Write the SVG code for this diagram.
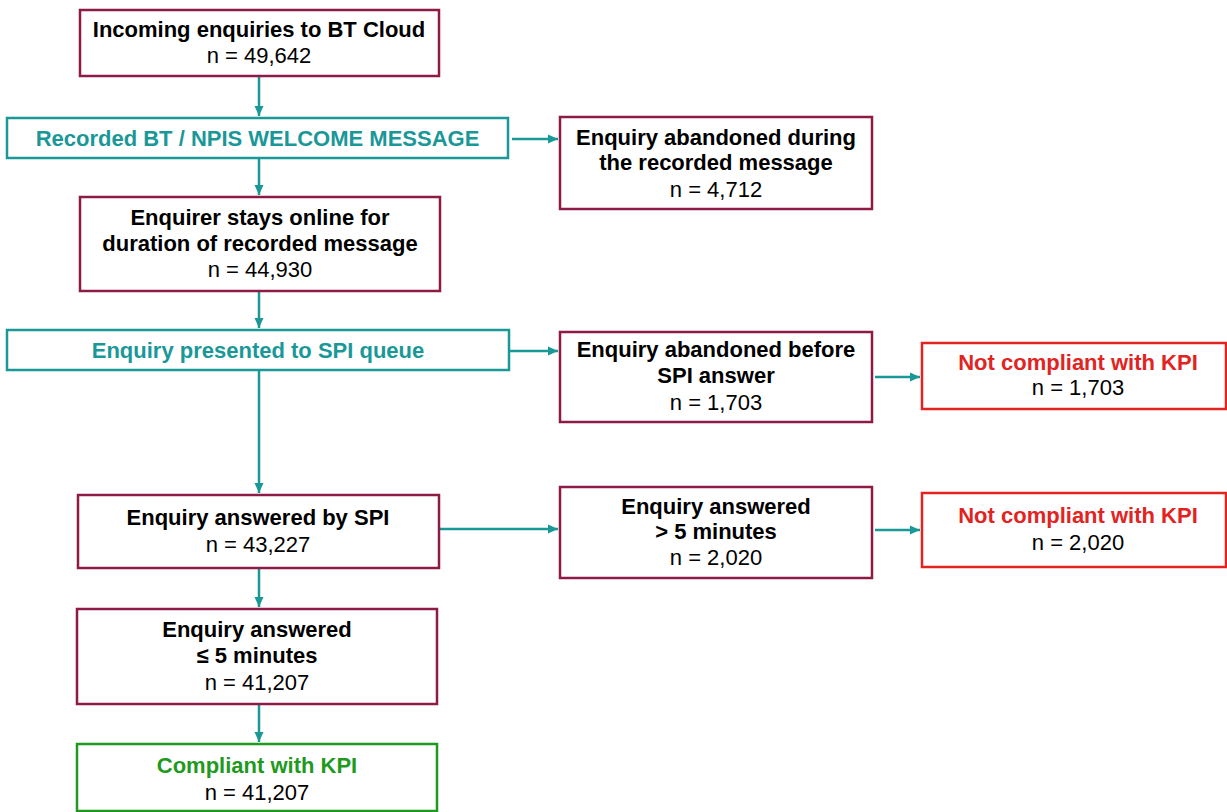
<svg xmlns="http://www.w3.org/2000/svg" width="1227" height="812" viewBox="0 0 1227 812">
<style>
text{font-family:"Liberation Sans",Arial,sans-serif;font-size:22px;text-anchor:middle;fill:#000}
.b{font-weight:bold}
.tl{fill:#1A9898}
.rd{fill:#E2231F}
.gr{fill:#1F9A1F}
.mb{fill:#fff;stroke:#8E1B45;stroke-width:2.5}
.tb{fill:#fff;stroke:#1A9898;stroke-width:2.5}
.rb{fill:#fff;stroke:#E2231F;stroke-width:2.5}
.gb{fill:#fff;stroke:#1F9A1F;stroke-width:2.5}
.c{fill:none;stroke:#1A9898;stroke-width:2.5}
</style>
<defs>
<marker id="ah" markerUnits="userSpaceOnUse" markerWidth="12" markerHeight="12" viewBox="0 0 12 12" refX="11" refY="6" orient="auto">
<path d="M1,1.5 L11,6 L1,10.5 Z" fill="#1A9898"/>
</marker>
</defs>
<g id="connectors">
<path class="c" d="M259,77 V116" marker-end="url(#ah)"/>
<path class="c" d="M259,159 V195" marker-end="url(#ah)"/>
<path class="c" d="M512,139 H558" marker-end="url(#ah)"/>
<path class="c" d="M259,292 V328" marker-end="url(#ah)"/>
<path class="c" d="M510,351 H558" marker-end="url(#ah)"/>
<path class="c" d="M259,371 V493" marker-end="url(#ah)"/>
<path class="c" d="M875,377 H920" marker-end="url(#ah)"/>
<path class="c" d="M440,529 H558" marker-end="url(#ah)"/>
<path class="c" d="M875,530 H920" marker-end="url(#ah)"/>
<path class="c" d="M259,569 V607" marker-end="url(#ah)"/>
<path class="c" d="M259,705 V742" marker-end="url(#ah)"/>
</g>
<g id="incoming">
<rect class="mb" x="80" y="10" width="359" height="66"/>
<text class="b" x="259" y="37">Incoming enquiries to BT Cloud</text>
<text x="259" y="63">n = 49,642</text>
</g>
<g id="welcome">
<rect class="tb" x="7" y="118" width="501" height="40"/>
<text class="b tl" x="257.5" y="146">Recorded BT / NPIS WELCOME MESSAGE</text>
</g>
<g id="abandoned-during">
<rect class="mb" x="560" y="117" width="312" height="92"/>
<text class="b" x="716" y="145">Enquiry abandoned during</text>
<text class="b" x="716" y="170">the recorded message</text>
<text x="716" y="197">n = 4,712</text>
</g>
<g id="stays-online">
<rect class="mb" x="80" y="197" width="360" height="94"/>
<text class="b" x="260" y="225">Enquirer stays online for</text>
<text class="b" x="260" y="251">duration of recorded message</text>
<text x="260" y="277">n = 44,930</text>
</g>
<g id="presented">
<rect class="tb" x="7" y="330" width="502" height="40"/>
<text class="b tl" x="258" y="358">Enquiry presented to SPI queue</text>
</g>
<g id="abandoned-before">
<rect class="mb" x="560" y="332" width="312" height="90"/>
<text class="b" x="716" y="357">Enquiry abandoned before</text>
<text class="b" x="716" y="383">SPI answer</text>
<text x="716" y="410">n = 1,703</text>
</g>
<g id="not-compliant-1">
<rect class="rb" x="922" y="343" width="304" height="66"/>
<text class="b rd" x="1078" y="370">Not compliant with KPI</text>
<text x="1078" y="395">n = 1,703</text>
</g>
<g id="answered-spi">
<rect class="mb" x="78" y="495" width="361" height="73"/>
<text class="b" x="258" y="525">Enquiry answered by SPI</text>
<text x="258" y="552">n = 43,227</text>
</g>
<g id="answered-over5">
<rect class="mb" x="560" y="487" width="312" height="91"/>
<text class="b" x="716" y="514">Enquiry answered</text>
<text class="b" x="716" y="539">&gt; 5 minutes</text>
<text x="716" y="565">n = 2,020</text>
</g>
<g id="not-compliant-2">
<rect class="rb" x="922" y="493" width="304" height="74"/>
<text class="b rd" x="1078" y="523">Not compliant with KPI</text>
<text x="1078" y="550">n = 2,020</text>
</g>
<g id="answered-under5">
<rect class="mb" x="77" y="609" width="360" height="95"/>
<text class="b" x="257" y="637">Enquiry answered</text>
<text class="b" x="257" y="663">≤ 5 minutes</text>
<text x="257" y="690">n = 41,207</text>
</g>
<g id="compliant">
<rect class="gb" x="77" y="744" width="360" height="67"/>
<text class="b gr" x="257" y="773">Compliant with KPI</text>
<text x="257" y="800">n = 41,207</text>
</g>
</svg>
